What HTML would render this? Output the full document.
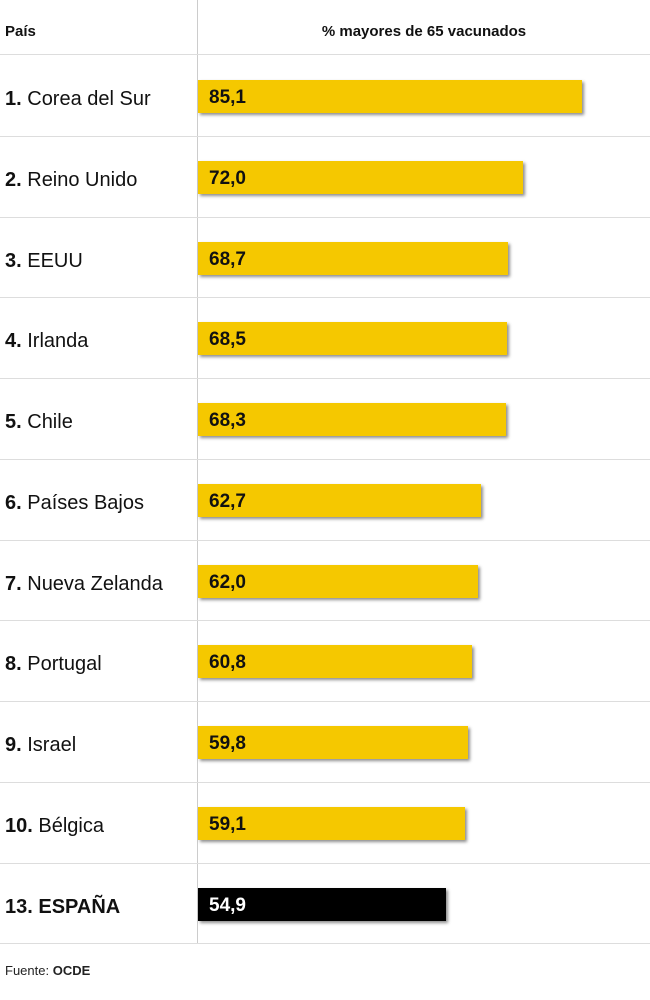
<!DOCTYPE html>
<html><head><meta charset="utf-8"><style>
body{margin:0;width:650px;height:1000px;background:#fff;font-family:"Liberation Sans",sans-serif;position:relative;overflow:hidden}
.a{position:absolute}
</style></head><body>
<div class="a" style="left:197px;top:0;width:1px;height:943px;background:#ccc"></div>
<div class="a" style="left:5px;top:23px;font-size:15px;font-weight:bold;color:#111">País</div>
<div class="a" style="left:198px;width:452px;top:23px;text-align:center;font-size:15px;font-weight:bold;color:#111">% mayores de 65 vacunados</div>
<div class="a" style="left:0;top:54px;width:650px;height:1px;background:#ddd"></div>
<div id="rows"></div>
<div class="a" style="left:5px;top:963px;font-size:13px;color:#222">Fuente: <b>OCDE</b></div>
<script>
const labels=["1.|Corea del Sur","2.|Reino Unido","3.|EEUU","4.|Irlanda","5.|Chile","6.|Países Bajos","7.|Nueva Zelanda","8.|Portugal","9.|Israel","10.|Bélgica","13. ESPAÑA|"];
const values=[85.1,72.0,68.7,68.5,68.3,62.7,62.0,60.8,59.8,59.1,54.9];
const highlight=[0,0,0,0,0,0,0,0,0,0,1];
const x0=198,scale=4.51,rowTop=55,pitch=80.75;
const c=document.getElementById('rows');
values.forEach((v,i)=>{
 const top=rowTop+i*pitch;
 const lab=document.createElement('div');lab.className='a';
 
 
 const [b,n]=labels[i].split('|');
 lab.innerHTML='<b>'+b+'</b>'+(n?' '+n:'');
 lab.style.cssText=`left:5px;top:${top+33}px;font-size:20px;color:#111`;
 if(highlight[i])lab.style.fontWeight='bold';
 c.appendChild(lab);
 const bar=document.createElement('div');bar.className='a';
 
 
 bar.style.cssText=`left:${x0}px;top:${top+25}px;width:${v*scale}px;height:33px;background:${highlight[i]?'#000':'#f5c800'};box-shadow:2px 2px 3px rgba(0,0,0,0.45)`;
 c.appendChild(bar);
 const t=document.createElement('div');t.className='a';
 
 
 t.textContent=v.toFixed(1).replace('.',',');
 t.style.cssText=`left:${x0+11}px;top:${top+32}px;font-size:19px;font-weight:bold;color:${highlight[i]?'#fff':'#111'}`;
 c.appendChild(t);
 const ln=document.createElement('div');ln.className='a';
 
 
 ln.style.cssText=`left:0;top:${Math.round(top+pitch)}px;width:650px;height:1px;background:#ddd`;
 c.appendChild(ln);
});
</script>
</body></html>
